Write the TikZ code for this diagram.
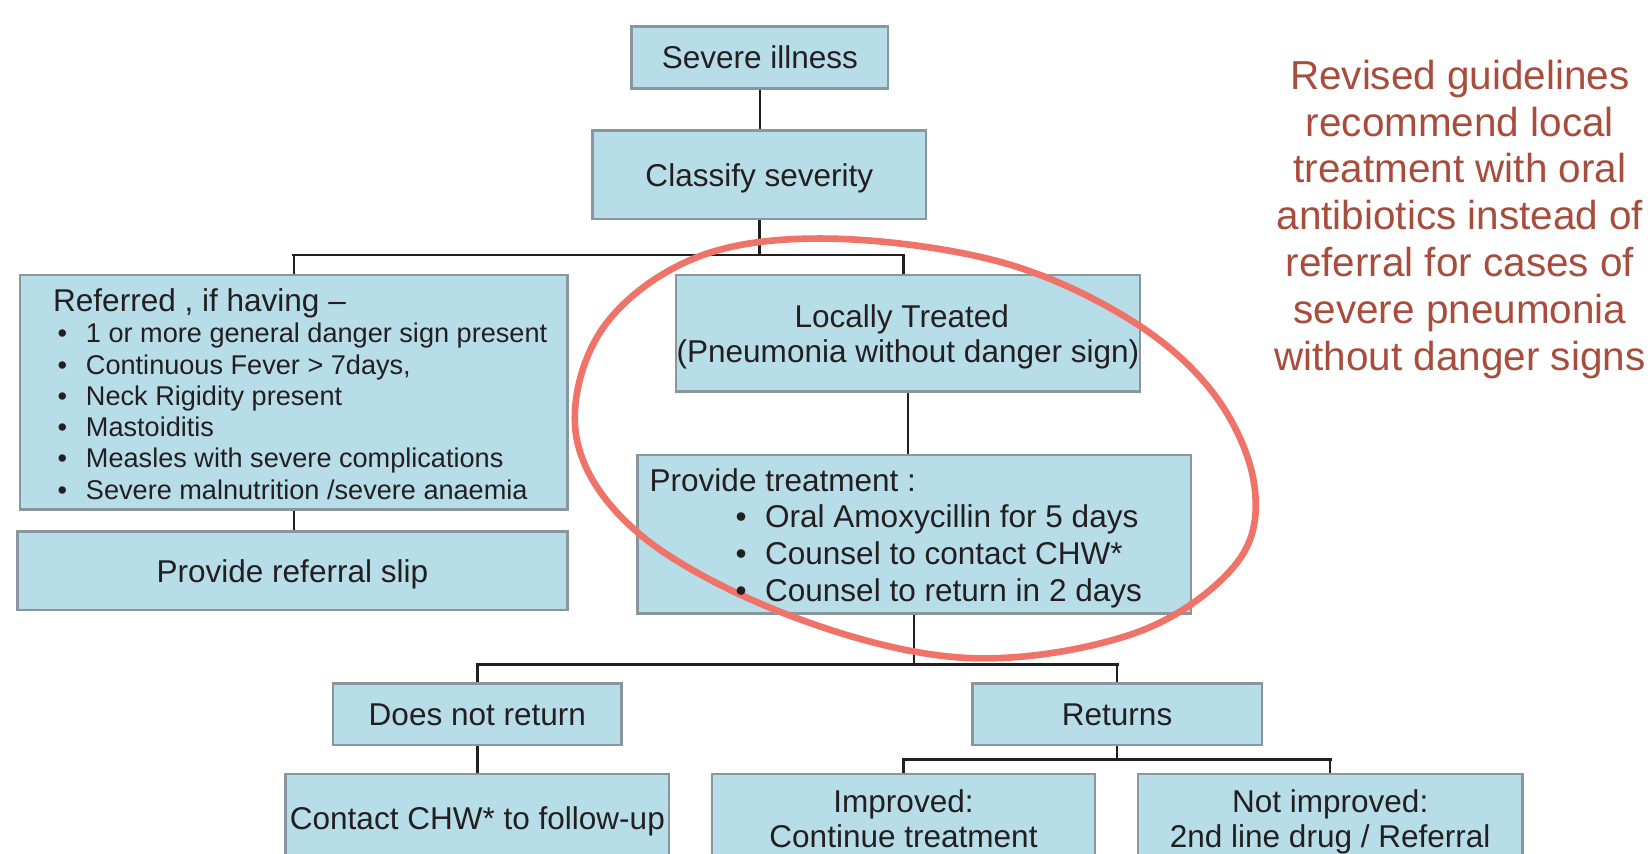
\documentclass[tikz,border=0pt]{standalone}
\usepackage{fontspec}
\setmainfont{Liberation Sans}
\usetikzlibrary{backgrounds}
\definecolor{boxfill}{RGB}{183,221,232}
\definecolor{boxline}{RGB}{138,150,158}
\definecolor{ink}{RGB}{35,31,32}
\definecolor{ringc}{RGB}{240,115,106}
\definecolor{notec}{RGB}{168,76,60}
\tikzset{
  box/.style={draw=boxline, fill=boxfill, line width=2.5pt, inner sep=0pt, text=ink,
              font=\fontsize{30pt}{33pt}\selectfont},
  one/.style={text height=21.5pt, text depth=0pt},
  txt/.style={inner sep=0pt, text=ink, font=\fontsize{30pt}{33pt}\selectfont},
  small/.style={inner sep=0pt, text=ink, font=\fontsize{25.8pt}{29.7pt}\selectfont},
  conn/.style={draw=ink, line width=2.3pt},
  bus/.style={draw=ink, line width=2.8pt, line cap=rect},
  ring/.style={draw=ringc, line width=6.3pt},
  note/.style={inner sep=0pt, text=notec, align=center, font=\fontsize{38.5pt}{44.5pt}\selectfont}
}
\begin{document}
\begin{tikzpicture}[x=1pt, y=-1pt]
\useasboundingbox (0,0) rectangle (1568,812);
\clip (0,0) rectangle (1568,812);

% boxes
\node[box, one, minimum width=244pt, minimum height=58.6pt] (sev) at (723,54.7) {Severe illness};
\node[box, one, minimum width=317pt, minimum height=84pt] (cls) at (722.5,166.3) {Classify severity};
\node[box, minimum width=521pt, minimum height=222.9pt] (ref) at (279.5,373.15) {};
\node[box, one, minimum width=523.6pt, minimum height=74.5pt] (slip) at (278.2,543.2) {Provide referral slip};
\node[box, minimum width=441.7pt, minimum height=111pt] (loc) at (863.9,317.2) {};
\node[box, minimum width=526.8pt, minimum height=150.7pt] (treat) at (869.8,508.25) {};
\node[box, one, minimum width=274.8pt, minimum height=58.6pt] (dnr) at (454.2,679.5) {Does not return};
\node[box, one, minimum width=275.7pt, minimum height=58.6pt] (ret) at (1062.85,679.5) {Returns};
\node[box, one, minimum width=364.8pt, minimum height=85pt] (cch) at (454.2,778.9) {Contact CHW* to follow-up};
\node[box, minimum width=364.7pt, minimum height=85pt] (imp) at (859.65,778.9) {};
\node[box, minimum width=365.6pt, minimum height=85pt] (nimp) at (1265.6,778.9) {};

% junctions
\coordinate (j1) at (722.5,242.6);
\coordinate (locin) at (859.5,261.7);
\coordinate (j2) at (869.8,631.8);
\coordinate (j3) at (1062.85,722.5);

\begin{scope}[on background layer]
  \draw[conn] (sev.south) -- (sev.south |- cls.north);
  \draw[conn] (cls.south) -- (j1);
  \draw[bus] (ref.north |- j1) -- (locin |- j1);
  \draw[conn] (ref.north |- j1) -- (ref.north);
  \draw[conn] (locin |- j1) -- (locin);
  \draw[conn] (ref.south) -- (ref.south |- slip.north);
  \draw[conn] (loc.south) -- (loc.south |- treat.north);
  \draw[conn] (treat.south) -- (j2);
  \draw[bus] (dnr.north |- j2) -- (ret.north |- j2);
  \draw[conn] (dnr.north |- j2) -- (dnr.north);
  \draw[conn] (ret.north |- j2) -- (ret.north);
  \draw[conn] (dnr.south) -- (cch.north);
  \draw[conn] (ret.south) -- (j3);
  \draw[bus] (imp.north |- j3) -- (nimp.north |- j3);
  \draw[conn] (imp.north |- j3) -- (imp.north);
  \draw[conn] (nimp.north |- j3) -- (nimp.north);
\end{scope}

% red ring
\draw[ring] plot[smooth cycle, tension=0.6] coordinates {
 (787,227) (951,249) (1078,306) (1158,379) (1194,466) (1174,539) (1078,603)
 (920,626) (755,587) (612,511) (549,419) (571,316) (660,246)};

% texts of multi-line boxes
\node[txt, anchor=base west] (ref0) at (50.4,296.1) {Referred , if having –};
\node[small, anchor=base west] (ref1) at (54.6,326.3) {\makebox[27pt][l]{•}1 or more general danger sign present};
\node[small, anchor=base west] (ref2) at (54.6,356.0) {\makebox[27pt][l]{•}Continuous Fever > 7days,};
\node[small, anchor=base west] (ref3) at (54.6,385.7) {\makebox[27pt][l]{•}Neck Rigidity present};
\node[small, anchor=base west] (ref4) at (54.6,415.4) {\makebox[27pt][l]{•}Mastoiditis};
\node[small, anchor=base west] (ref5) at (54.6,445.1) {\makebox[27pt][l]{•}Measles with severe complications};
\node[small, anchor=base west] (ref6) at (54.6,474.8) {\makebox[27pt][l]{•}Severe malnutrition /severe anaemia};

\node[txt, anchor=base] (loc1) at (858,312) {Locally Treated};
\node[txt, anchor=base] (loc2) at (863.9,345.3) {(Pneumonia without danger sign)};

\node[txt, anchor=base west] (tr0) at (617.9,467.4) {Provide treatment :};
\node[txt, anchor=base west] (tr1) at (699.6,502.3) {\makebox[28.2pt][l]{•}Oral Amoxycillin for 5 days};
\node[txt, anchor=base west] (tr2) at (699.6,537.2) {\makebox[28.2pt][l]{•}Counsel to contact CHW*};
\node[txt, anchor=base west] (tr3) at (699.6,572.1) {\makebox[28.2pt][l]{•}Counsel to return in 2 days};

\node[txt, anchor=base] (imp1) at (859.65,773.5) {Improved:};
\node[txt, anchor=base] (imp2) at (859.65,806.8) {Continue treatment};
\node[txt, anchor=base] (nimp1) at (1265.6,773.5) {Not improved:};
\node[txt, anchor=base] (nimp2) at (1265.6,806.8) {2nd line drug / Referral};

% note
\node[note] (note) at (1389,208.6) {Revised guidelines\\recommend local\\treatment with oral\\antibiotics instead of\\referral for cases of\\severe pneumonia\\without danger signs};
\end{tikzpicture}
\end{document}
